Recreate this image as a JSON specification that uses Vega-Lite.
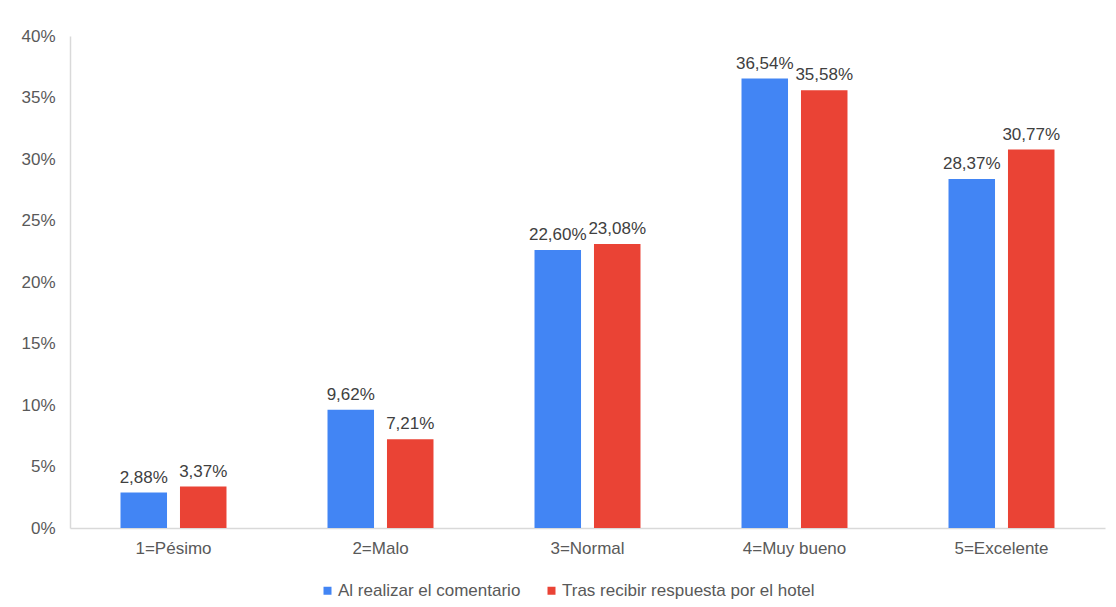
{
  "$schema": "https://vega.github.io/schema/vega-lite/v6.json",
  "width": 1035,
  "height": 492,
  "autosize": {"type": "none"},
  "padding": {"left": 70, "top": 36, "right": 11, "bottom": 79},
  "background": "white",
  "config": {
    "locale": {"number": {"decimal": ",", "thousands": ".", "grouping": [3], "currency": ["", " €"]}},
    "view": {"stroke": null},
    "font": "Liberation Sans",
    "axis": {"grid": false, "ticks": false, "domainColor": "#d9d9d9", "domainWidth": 1.5, "labelColor": "#595959", "labelFont": "Liberation Sans", "labelFontSize": 17, "title": null, "labelOverlap": false},
    "legend": {"labelFont": "Liberation Sans", "labelFontSize": 17, "labelColor": "#595959", "labelLimit": 500}
  },
  "data": {
    "values": [
      {"cat": "1=Pésimo", "serie": "Al realizar el comentario", "v": 0.0288},
      {"cat": "1=Pésimo", "serie": "Tras recibir respuesta por el hotel", "v": 0.0337},
      {"cat": "2=Malo", "serie": "Al realizar el comentario", "v": 0.0962},
      {"cat": "2=Malo", "serie": "Tras recibir respuesta por el hotel", "v": 0.0721},
      {"cat": "3=Normal", "serie": "Al realizar el comentario", "v": 0.2260},
      {"cat": "3=Normal", "serie": "Tras recibir respuesta por el hotel", "v": 0.2308},
      {"cat": "4=Muy bueno", "serie": "Al realizar el comentario", "v": 0.3654},
      {"cat": "4=Muy bueno", "serie": "Tras recibir respuesta por el hotel", "v": 0.3558},
      {"cat": "5=Excelente", "serie": "Al realizar el comentario", "v": 0.2837},
      {"cat": "5=Excelente", "serie": "Tras recibir respuesta por el hotel", "v": 0.3077}
    ]
  },
  "encoding": {
    "x": {"field": "cat", "type": "nominal", "sort": null,
          "scale": {"paddingInner": 0.488, "paddingOuter": 0.244},
          "axis": {"labelAngle": 0, "labelPadding": 12}},
    "xOffset": {"field": "serie", "type": "nominal", "sort": null,
                "scale": {"paddingInner": 0.218, "paddingOuter": 0}},
    "y": {"field": "v", "type": "quantitative",
          "scale": {"domain": [0, 0.4], "nice": false},
          "axis": {"format": ".0%", "values": [0, 0.05, 0.1, 0.15, 0.2, 0.25, 0.3, 0.35, 0.4], "labelPadding": 15}}
  },
  "layer": [
    {
      "mark": {"type": "bar"},
      "encoding": {
        "color": {"field": "serie", "type": "nominal", "sort": null,
                  "scale": {"range": ["#4285F4", "#EA4335"]},
                  "legend": {"orient": "none", "legendX": 249, "legendY": 546, "direction": "horizontal", "title": null,
                             "symbolType": "square", "symbolSize": 64, "labelOffset": 2,
                             "columnPadding": 22, "symbolStrokeWidth": 0}}
      }
    },
    {
      "mark": {"type": "text", "baseline": "alphabetic", "dy": -10, "fontSize": 17, "color": "#404040", "font": "Liberation Sans"},
      "encoding": {
        "text": {"field": "v", "type": "quantitative", "format": ".2%"}
      }
    }
  ]
}
